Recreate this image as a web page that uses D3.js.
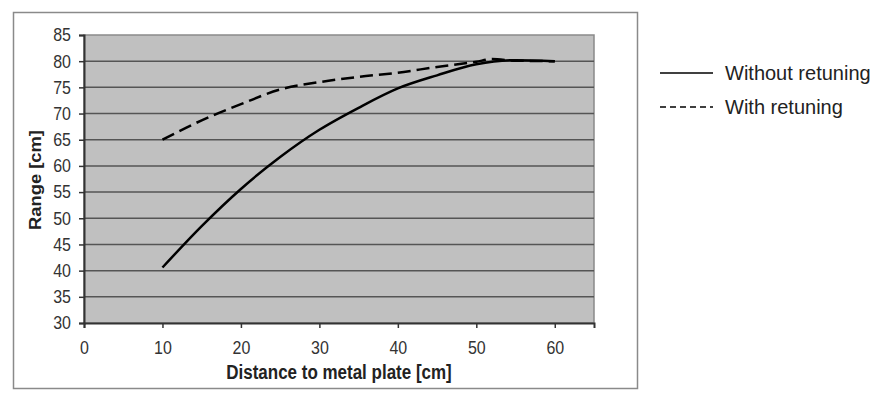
<!DOCTYPE html>
<html>
<head>
<meta charset="utf-8">
<script src="https://cdn.jsdelivr.net/npm/d3@7"></script>
<style>
  body { margin: 0; background: #fff; }
  svg { font-family: 'Liberation Sans', Arial, sans-serif; }
  .tick text { fill: #333; font-size: 16px; }
</style>
</head>
<body>
<svg class="chart"></svg>
<script>
// distance [cm] and range [cm]
const distWithout = [10, 15, 20, 25, 30, 35, 40, 45, 50, 55, 60];
const rangeWithout = [40.6, 48.5, 55.6, 61.7, 66.9, 71.1, 74.8, 77.3, 79.4, 80.2, 80.0];
const distWith = [10, 15, 20, 25, 30, 35, 40, 45, 50, 52, 55, 60];
const rangeWith = [65.0, 68.7, 71.8, 74.6, 76.0, 77.0, 77.8, 78.9, 79.9, 80.4, 80.1, 80.0];
const xTicks = [0, 10, 20, 30, 40, 50, 60];
const yTicks = [30, 35, 40, 45, 50, 55, 60, 65, 70, 75, 80, 85];
const seriesNames = ['Without retuning', 'With retuning'];

let width = 883;
let height = 399;
let margin = { top: 35, right: 289, bottom: 76, left: 84 };
let plotW = width - margin.left - margin.right;
let plotH = height - margin.top - margin.bottom;
// the source picture is a little taller than wide in its text
let stretch = 1.15;

let svg = d3.select('.chart').attr('width', width).attr('height', height);

// outer chart border
svg.append('rect')
  .attr('x', 13.5).attr('y', 12.5)
  .attr('width', 624).attr('height', 376)
  .attr('fill', 'none').attr('stroke', '#8a8a8a').attr('stroke-width', 1.5);

let g = svg.append('g').attr('transform', `translate(${margin.left},${margin.top})`);

let x = d3.scaleLinear().domain([0, 65]).range([0, plotW]);
let y = d3.scaleLinear().domain([30, 85]).range([plotH, 0]);

// plot background
g.append('rect')
  .attr('width', plotW).attr('height', plotH)
  .attr('fill', '#c0c0c0').attr('stroke', '#8a8a8a').attr('stroke-width', 1.5);

// horizontal gridlines
g.selectAll('.grid')
  .data(yTicks.slice(1, -1))
  .enter()
  .append('line')
  .classed('grid', true)
  .attr('x1', 0).attr('x2', plotW)
  .attr('y1', (d) => y(d)).attr('y2', (d) => y(d))
  .attr('stroke', '#555').attr('stroke-width', 1.5);

// axes
let xAxis = g.append('g')
  .attr('transform', `translate(0,${plotH})`)
  .call(d3.axisBottom(x).tickValues(xTicks).tickSize(5).tickPadding(11));
let yAxis = g.append('g')
  .call(d3.axisLeft(y).tickValues(yTicks).tickSize(5).tickPadding(8));
[xAxis, yAxis].forEach((a) => {
  a.select('.domain').attr('stroke', '#333').attr('stroke-width', 2);
  a.selectAll('.tick line').attr('stroke', '#333').attr('stroke-width', 1.5);
  a.selectAll('.tick text').attr('transform', `scale(1,${stretch})`);
});
yAxis.selectAll('.tick text').attr('dy', '0.32em');

// axis titles
g.append('text')
  .attr('transform', `translate(${plotW / 2},${plotH + 49}) scale(1,${stretch})`)
  .attr('text-anchor', 'middle')
  .attr('dy', '0.36em')
  .style('font-size', '17px').style('font-weight', 'bold').attr('fill', '#222')
  .text('Distance to metal plate [cm]');
g.append('text')
  .attr('transform', `translate(${35 - margin.left},${plotH / 2 + 1}) rotate(-90) scale(1.08,1)`)
  .attr('text-anchor', 'middle')
  .attr('dy', '0.36em')
  .style('font-size', '17px').style('font-weight', 'bold').attr('fill', '#222')
  .text('Range [cm]');

// lines
const line = d3.line()
  .x((d) => x(d[0]))
  .y((d) => y(d[1]))
  .curve(d3.curveMonotoneX);

const series = [
  { name: seriesNames[0], values: d3.zip(distWithout, rangeWithout), dash: null },
  { name: seriesNames[1], values: d3.zip(distWith, rangeWith), dash: '13,6' },
];

g.selectAll('.line')
  .data(series)
  .enter()
  .append('path')
  .classed('line', true)
  .attr('d', (d) => line(d.values))
  .attr('fill', 'none')
  .attr('stroke', '#000')
  .attr('stroke-width', 2.5)
  .attr('stroke-dasharray', (d) => d.dash);

// legend
let legend = svg.append('g')
  .selectAll('.legend')
  .data(series)
  .enter()
  .append('g')
  .classed('legend', true)
  .attr('transform', (d, i) => `translate(660,${73 + i * 34})`);
legend.append('line')
  .attr('x1', 0).attr('x2', 53)
  .attr('stroke', '#000').attr('stroke-width', 1.5)
  .attr('stroke-dasharray', (d) => (d.dash ? '6,4' : null));
legend.append('text')
  .attr('x', 65).attr('dy', '0.36em')
  .style('font-size', '20px').attr('fill', '#222')
  .text((d) => d.name);
</script>
</body>
</html>
